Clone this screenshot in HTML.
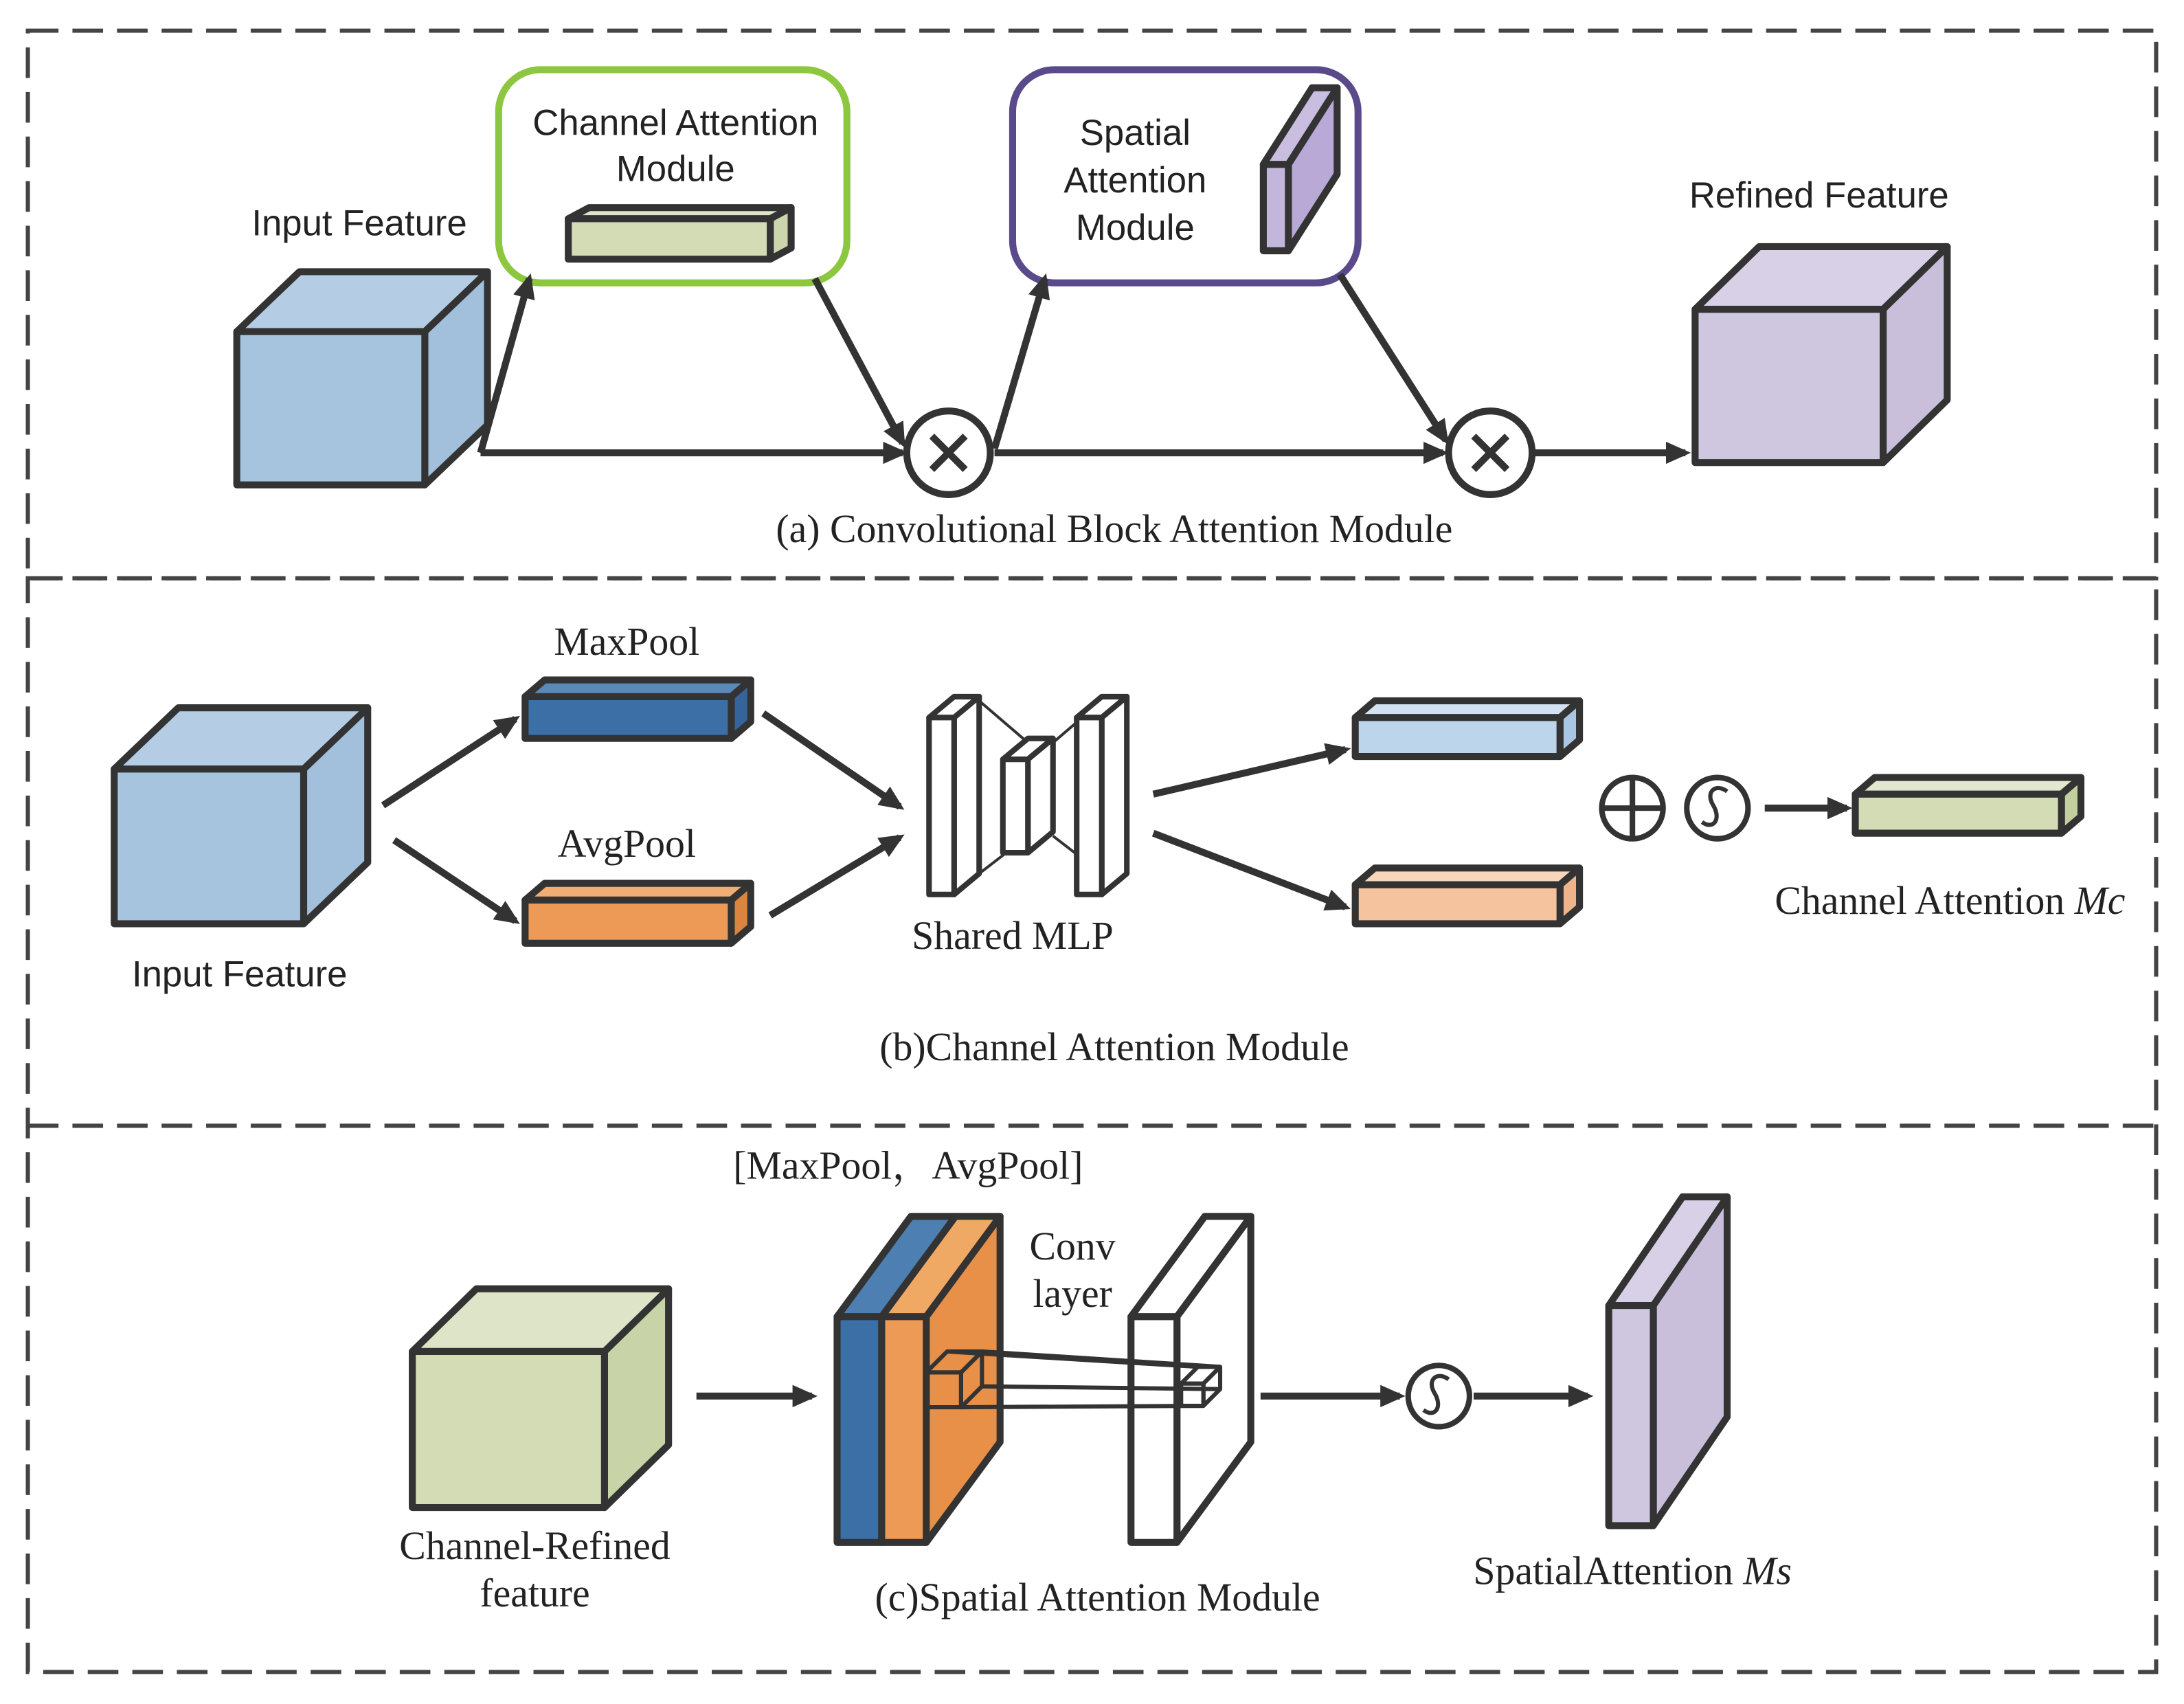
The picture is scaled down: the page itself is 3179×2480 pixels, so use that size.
<!DOCTYPE html>
<html><head><meta charset="utf-8"><style>
html,body{margin:0;padding:0;background:#fff;}
svg{display:block;}
.sans{font-family:"Liberation Sans","DejaVu Sans",sans-serif;font-size:26px;fill:#222;}
.serif{font-family:"Liberation Serif","Noto Serif CJK SC",serif;font-size:28.5px;fill:#222;}
</style></head><body>
<svg width="3179" height="2480" viewBox="0 0 1568 1223" preserveAspectRatio="none" xmlns="http://www.w3.org/2000/svg">
<defs>
<marker id="ah" markerWidth="18" markerHeight="18" refX="14" refY="9" orient="auto" markerUnits="userSpaceOnUse" viewBox="0 0 18 18">
<path d="M0,1 L18,9 L0,17 z" fill="#333"/></marker>
</defs>
<rect width="1568" height="1223" fill="#fff"/>
<g fill="none" stroke="#444" stroke-width="3" stroke-dasharray="22,10">
<rect x="20" y="22" width="1528" height="393"/>
<line x1="20" y1="808" x2="1548" y2="808"/>
<rect x="20" y="415" width="1528" height="785"/>
</g>
<g stroke="#333" stroke-width="5" stroke-linejoin="round">
<polygon points="170,238 215,195 350,195 305,238" fill="#b5cde4"/>
<polygon points="305,238 350,195 350,305 305,348" fill="#a2bfdc"/>
<rect x="170" y="238" width="135" height="110" fill="#a7c4df"/>
<rect x="358" y="50" width="250" height="153" rx="30" fill="#fff" stroke="#8dc63f"/>
<polygon points="408,157 423,149 568,149 553,157" fill="#dde4c8"/>
<polygon points="553,157 568,149 568,178 553,186" fill="#cbd6ad"/>
<rect x="408" y="157" width="145" height="29" fill="#d3dcb5"/>
<rect x="727" y="50" width="248" height="153" rx="30" fill="#fff" stroke="#5b4a8b"/>
<polygon points="907,118 942,63 960,63 925,118" fill="#c9bde0"/>
<polygon points="925,118 960,63 960,125 925,180" fill="#b9a9d6"/>
<rect x="907" y="118" width="18" height="62" fill="#c3b6dc"/>
<polygon points="1217,222 1263,177 1398,177 1352,222" fill="#d8d0e6"/>
<polygon points="1352,222 1398,177 1398,287 1352,332" fill="#c9bfdb"/>
<rect x="1217" y="222" width="135" height="110" fill="#cfc6df"/>
</g>
<g stroke="#333" stroke-width="5" fill="none" marker-end="url(#ah)">
<line x1="345" y1="325" x2="648" y2="325"/>
<line x1="345" y1="325" x2="380" y2="200"/>
<line x1="585" y1="200" x2="648" y2="318"/>
<line x1="714" y1="322" x2="750" y2="200"/>
<line x1="714" y1="325" x2="1036" y2="325"/>
<line x1="962" y1="197" x2="1038" y2="316"/>
<line x1="1102" y1="325" x2="1210" y2="325"/>
</g>
<g stroke="#333" stroke-width="5" fill="#fff">
<circle cx="681" cy="325" r="30"/><circle cx="1070" cy="325" r="30"/>
</g>
<g stroke="#333" stroke-width="5">
<path d="M669,313 L693,337 M693,313 L669,337"/><path d="M1058,313 L1082,337 M1082,313 L1058,337"/>
</g>
<g class="sans" text-anchor="middle">
<text x="485" y="97">Channel Attention</text><text x="485" y="130">Module</text>
<text x="815" y="104">Spatial</text><text x="815" y="138">Attention</text><text x="815" y="172">Module</text>
<text x="258" y="169">Input Feature</text><text x="1306" y="149">Refined Feature</text>
<text x="172" y="708">Input Feature</text>
</g>
<text class="serif" x="800" y="389" text-anchor="middle">(a) Convolutional Block Attention Module</text>

<g stroke="#333" stroke-width="5" stroke-linejoin="round">
<polygon points="82,552 128,508 264,508 218,552" fill="#b5cde4"/>
<polygon points="218,552 264,508 264,619 218,663" fill="#a2bfdc"/>
<rect x="82" y="552" width="136" height="111" fill="#a7c4df"/>
<polygon points="377,500 391,488 539,488 525,500" fill="#5a88b8"/>
<polygon points="525,500 539,488 539,518 525,530" fill="#34649a"/>
<rect x="377" y="500" width="148" height="30" fill="#3b6fa5"/>
<polygon points="377,646 391,634 539,634 525,646" fill="#f0ae75"/>
<polygon points="525,646 539,634 539,665 525,677" fill="#d9853f"/>
<rect x="377" y="646" width="148" height="31" fill="#ec9a55"/>
<polygon points="973,515 987,503 1134,503 1120,515" fill="#d2e2f1"/>
<polygon points="1120,515 1134,503 1134,531 1120,543" fill="#a9c7e3"/>
<rect x="973" y="515" width="147" height="28" fill="#bcd5ea"/>
<polygon points="973,635 987,623 1134,623 1120,635" fill="#f8d6bb"/>
<polygon points="1120,635 1134,623 1134,651 1120,663" fill="#efb489"/>
<rect x="973" y="635" width="147" height="28" fill="#f5c49f"/>
<polygon points="1332,570 1346,558 1494,558 1480,570" fill="#e2e8cf"/>
<polygon points="1480,570 1494,558 1494,586 1480,598" fill="#c3cf9f"/>
<rect x="1332" y="570" width="148" height="28" fill="#d3dcb5"/>
</g>
<g stroke="#333" stroke-width="2" fill="none">
<line x1="703" y1="503" x2="738" y2="533"/><line x1="703" y1="627" x2="738" y2="600"/>
<line x1="791" y1="503" x2="756" y2="533"/><line x1="791" y1="627" x2="756" y2="600"/>
</g>
<g stroke="#333" stroke-width="4" fill="#fff" stroke-linejoin="round">
<polygon points="667,515 685,500 703,500 685,515"/><polygon points="685,515 703,500 703,627 685,642"/><rect x="667" y="515" width="18" height="127"/>
<polygon points="720,545 738,530 756,530 738,545"/><polygon points="738,545 756,530 756,597 738,612"/><rect x="720" y="545" width="18" height="67"/>
<polygon points="773,515 791,500 809,500 791,515"/><polygon points="791,515 809,500 809,627 791,642"/><rect x="773" y="515" width="18" height="127"/>
</g>
<g stroke="#333" stroke-width="5" fill="none" marker-end="url(#ah)">
<line x1="275" y1="578" x2="370" y2="516"/><line x1="283" y1="603" x2="370" y2="661"/>
<line x1="548" y1="512" x2="646" y2="579"/><line x1="553" y1="657" x2="646" y2="601"/>
<line x1="828" y1="570" x2="966" y2="538"/><line x1="828" y1="598" x2="966" y2="651"/>
<line x1="1267" y1="580" x2="1326" y2="580"/>
</g>
<g stroke="#333" stroke-width="4" fill="#fff">
<circle cx="1172" cy="580" r="22"/><path d="M1150,580 H1194 M1172,558 V602" fill="none"/>
<circle cx="1233" cy="580" r="22"/>
<path d="M1240,568 C1232,562 1224,568 1230,578 C1236,588 1230,596 1222,590" fill="none" stroke-width="3"/>
</g>
<g class="serif" text-anchor="middle">
<text x="450" y="470">MaxPool</text><text x="450" y="615">AvgPool</text>
<text x="727" y="681">Shared MLP</text>
<text x="1400" y="656">Channel Attention <tspan font-style="italic">Mc</tspan></text>
<text x="800" y="761">(b)Channel Attention Module</text>
<text x="652" y="846">[MaxPool，AvgPool]</text>
<text x="770" y="904">Conv</text><text x="770" y="938">layer</text>
<text x="384" y="1119">Channel-Refined</text><text x="384" y="1153">feature</text>
<text x="788" y="1156">(c)Spatial Attention Module</text>
<text x="1172" y="1137">SpatialAttention <tspan font-style="italic">Ms</tspan></text>
</g>

<g stroke="#333" stroke-width="5" stroke-linejoin="round">
<polygon points="296,970 342,925 480,925 434,970" fill="#dde4c8"/>
<polygon points="434,970 480,925 480,1037 434,1082" fill="#c8d3a8"/>
<rect x="296" y="970" width="138" height="112" fill="#d3dcb5"/>
<polygon points="601,945 654,873 686,873 633,945" fill="#4d7fb2"/>
<rect x="601" y="945" width="32" height="162" fill="#3b6fa5"/>
<polygon points="633,945 686,873 718,873 665,945" fill="#f0a865"/>
<polygon points="665,945 718,873 718,1035 665,1107" fill="#e89047"/>
<rect x="633" y="945" width="32" height="162" fill="#ec9a55"/>
<polygon points="812,945 865,873 898,873 845,945" fill="#fff"/>
<polygon points="845,945 898,873 898,1035 845,1107" fill="#fff"/>
<rect x="812" y="945" width="33" height="162" fill="#fff"/>
<polygon points="1155,937 1208,859 1240,859 1187,937" fill="#d8d0e6"/>
<polygon points="1187,937 1240,859 1240,1017 1187,1095" fill="#c9bfdb"/>
<rect x="1155" y="937" width="32" height="158" fill="#cfc6df"/>
</g>
<g stroke="#333" stroke-width="3" fill="none" stroke-linejoin="round">
<rect x="665" y="985" width="25" height="25"/><polygon points="665,985 680,970 705,970 690,985"/><polygon points="690,985 705,970 705,995 690,1010"/>
<rect x="848" y="993" width="16" height="16"/><polygon points="848,993 860,981 876,981 864,993"/><polygon points="864,993 876,981 876,997 864,1009"/>
<line x1="680" y1="970" x2="860" y2="981"/><line x1="705" y1="970" x2="876" y2="981"/>
<line x1="690" y1="1010" x2="864" y2="1009"/><line x1="705" y1="995" x2="876" y2="997"/>
</g>
<g stroke="#333" stroke-width="5" fill="none" marker-end="url(#ah)">
<line x1="500" y1="1002" x2="583" y2="1002"/>
<line x1="905" y1="1002" x2="1005" y2="1002"/>
<line x1="1058" y1="1002" x2="1140" y2="1002"/>
</g>
<g stroke="#333" stroke-width="4" fill="#fff">
<circle cx="1033" cy="1002" r="22"/>
<path d="M1040,990 C1032,984 1024,990 1030,1000 C1036,1010 1030,1018 1022,1012" fill="none" stroke-width="3"/>
</g>
</svg>
</body></html>
